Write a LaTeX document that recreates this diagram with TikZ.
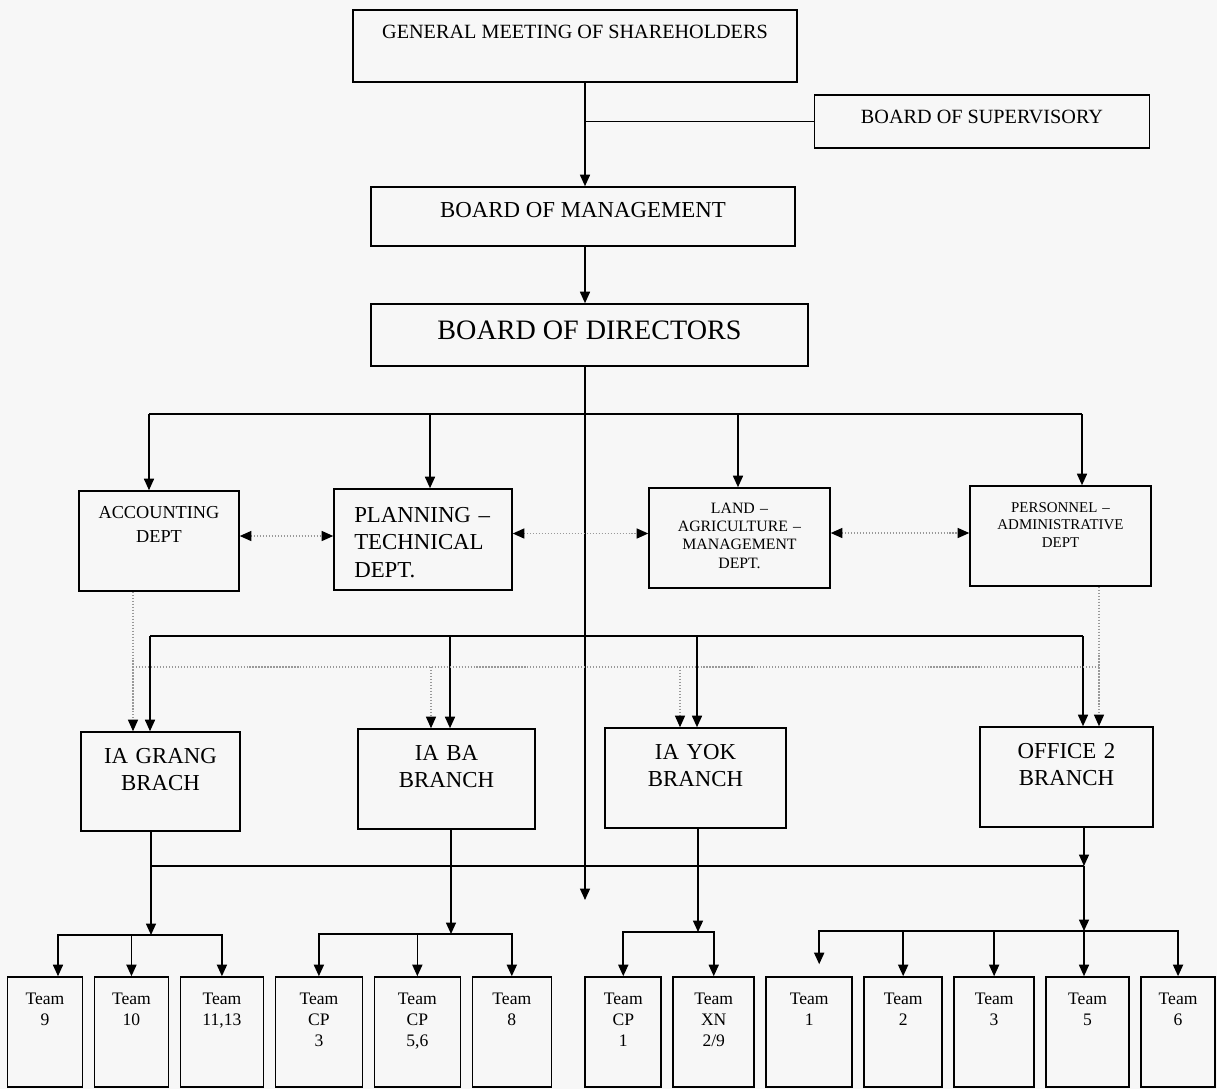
\documentclass[tikz,border=0pt]{standalone}
\usepackage{fontspec}
\setmainfont{Liberation Serif}
\usetikzlibrary{arrows.meta,positioning}

\begin{document}
\begin{tikzpicture}[
      x=0.02cm, y=-0.02cm,
      node distance=0.208cm,
      line width=0.9pt,
      every node/.style={font=\fontsize{10}{12.2}\selectfont},
      block/.style={rectangle, draw, text centered},
      dept/.style={block, minimum height=2cm, text width=3.2cm, text height=0pt},
      branch/.style={block, minimum height=2cm, text width=2.8cm, text height=0pt, text depth=0.74cm, font=\fontsize{13}{15.4}\selectfont},
      team/.style={block, minimum height=2.2cm, text width=1.2cm, text height=0pt, text depth=1.12cm},
      line/.style={draw, -{Triangle[length=2.3mm, width=2mm]}},
      link/.style={draw},
      dotlink/.style={draw=black!40, densely dotted, line width=0.7pt},
      dotline/.style={dotlink, -{Triangle[length=2.3mm, width=2mm, color=black]}},
      dotboth/.style={dotlink, {Triangle[length=2.3mm, width=2mm, color=black]}-{Triangle[length=2.3mm, width=2mm, color=black]}}
    ]
    \useasboundingbox (0,0) rectangle (1217,1089);
    \fill [black!3] (0,0) rectangle (1217,1089);
    % Boards
    \node [block, minimum width=8.88cm, minimum height=1.44cm, text height=0pt, text depth=0.29cm, font=\fontsize{11.5}{14}\selectfont] (gms) at (575,46) {GENERAL MEETING OF SHAREHOLDERS};
    \node [block, minimum width=6.7cm, minimum height=1.06cm, text height=0.07cm, text depth=0pt, font=\fontsize{11.5}{14}\selectfont] (sup) at (982,121.5) {BOARD OF SUPERVISORY};
    \node [block, minimum width=8.48cm, minimum height=1.18cm, text height=0.04cm, text depth=0pt, font=\fontsize{13}{15}\selectfont] (bom) at (583,216.5) {BOARD OF MANAGEMENT};
    \node [block, minimum width=8.74cm, minimum height=1.24cm, text height=0.17cm, text depth=0pt, font=\fontsize{16}{19}\selectfont] (bod) at (589.5,335) {BOARD OF DIRECTORS};
    % Departments
    \node [dept, minimum width=3.2cm, text width=2.8cm, text depth=0.92cm, font=\fontsize{10.4}{14.2}\selectfont] (acc) at (159,541) {ACCOUNTING\\DEPT};
    \node [dept, minimum width=3.56cm, minimum height=2.02cm, text width=2.75cm, align=left, text depth=0.68cm, font=\fontsize{13}{15.6}\selectfont] (plan) at (423,539.5) {PLANNING –\\TECHNICAL\\DEPT.};
    \node [dept, minimum width=3.62cm, text depth=0.99cm, font=\fontsize{9}{10.4}\selectfont] (land) at (739.5,538) {LAND –\\AGRICULTURE –\\MANAGEMENT\\DEPT.};
    \node [dept, minimum width=3.62cm, text depth=0.96cm, font=\fontsize{8.5}{10.2}\selectfont] (pers) at (1060.5,536) {PERSONNEL –\\ADMINISTRATIVE\\DEPT};
    % Branches
    \node [branch, minimum width=3.18cm, minimum height=1.98cm] (grang) at (160.5,781.5) {IA GRANG\\BRACH};
    \node [branch, minimum width=3.54cm] (ba) at (446.5,779) {IA BA\\BRANCH};
    \node [branch, minimum width=3.62cm] (yok) at (695.5,778) {IA YOK\\BRANCH};
    \node [branch, minimum width=3.46cm] (off) at (1066.5,777) {OFFICE 2\\BRANCH};
    % Teams
    \node [team, minimum width=1.5cm] (t9) at (45,1032) {Team\\9};
    \node [team, minimum width=1.48cm, right=of t9] (t10) {Team\\10};
    \node [team, minimum width=1.66cm, right=of t10] (t11) {Team\\11,13};
    \node [team, minimum width=1.74cm, right=of t11] (tcp3) {Team\\CP\\3};
    \node [team, minimum width=1.72cm, right=of tcp3] (tcp56) {Team\\CP\\5,6};
    \node [team, minimum width=1.58cm, right=of tcp56] (t8) {Team\\8};
    \node [team, minimum width=1.52cm, right=0.648cm of t8] (tcp1) {Team\\CP\\1};
    \node [team, minimum width=1.62cm, right=of tcp1] (txn) {Team\\XN\\2/9};
    \node [team, minimum width=1.72cm, right=of txn] (t1) {Team\\1};
    \node [team, minimum width=1.56cm, right=of t1] (t2) {Team\\2};
    \node [team, minimum width=1.6cm, right=of t2] (t3) {Team\\3};
    \node [team, minimum width=1.66cm, right=of t3] (t5) {Team\\5};
    \node [team, minimum width=1.48cm, right=of t5] (t6) {Team\\6};
    % Bus points
    \coordinate (spine) at (585,0);
    \coordinate (spineend) at (585,900);
    \coordinate (da) at (149,414);
    \coordinate (db) at (430,414);
    \coordinate (dc) at (738,414);
    \coordinate (dd) at (1082,414);
    \coordinate (fa) at (150,636);
    \coordinate (fb) at (450,636);
    \coordinate (fc) at (697,636);
    \coordinate (fd) at (1083,636);
    \coordinate (ea) at (133,667);
    \coordinate (eb) at (431,667);
    \coordinate (ec) at (680,667);
    \coordinate (ed) at (1099,667);
    \coordinate (ga) at (151,866);
    \coordinate (gd) at (1084,866);
    \coordinate (ta) at (151,935);
    \coordinate (tb) at (451,934);
    \coordinate (tc) at (698,932);
    \coordinate (td) at (1084,931);
    % Lines
    \path [line] (gms.south -| spine) -- (bom.north -| spine);
    \path [link] (sup.west -| spine) -- (sup.west);
    \path [line] (bom.south -| spine) -- (bod.north -| spine);
    \path [line] (bod.south -| spine) -- (spineend);
    \path [link] (da) -- (dd);
    \path [line] (da) -- (da |- acc.north);
    \path [line] (db) -- (db |- plan.north);
    \path [line] (dc) -- (dc |- land.north);
    \path [line] (dd) -- (dd |- pers.north);
    \path [dotboth] ([yshift=0.1cm]acc.east) -- ([yshift=0.1cm]acc.east -| plan.west);
    \path [dotboth] ([yshift=0.12cm]plan.east) -- ([yshift=0.12cm]plan.east -| land.west);
    \path [dotboth] ([yshift=0.1cm]land.east) -- ([yshift=0.1cm]land.east -| pers.west);
    \path [link] (fa) -- (fd);
    \path [line] (fa) -- (fa |- grang.north);
    \path [line] (fb) -- (fb |- ba.north);
    \path [line] (fc) -- (fc |- yok.north);
    \path [line] (fd) -- (fd |- off.north);
    \path [dotlink] (ea) -- (ed);
    \path [dotline] (ea |- acc.south) -- (ea |- grang.north);
    \path [dotline] (eb) -- (eb |- ba.north);
    \path [dotline] (ec) -- (ec |- yok.north);
    \path [dotline] (ed |- pers.south) -- (ed |- off.north);
    \path [link] (ga) -- (gd);
    \path [line] (grang.south -| ta) -- (ta);
    \path [line] (ba.south -| tb) -- (tb);
    \path [line] (yok.south -| tc) -- (tc);
    \path [line] (off.south -| gd) -- (gd);
    \path [line] (gd) -- (td);
    \path [line] (ta) -| ([xshift=0.26cm]t9.north);
    \path [line] (ta) -| (t10);
    \path [line] (ta) -| (t11);
    \path [line] (tb) -| (tcp3);
    \path [line] (tb) -| (tcp56);
    \path [line] (tb) -| (t8);
    \path [line] (tc) -| (tcp1);
    \path [line] (tc) -| (txn);
    \path [line, shorten >=0.24cm] (td) -| ([xshift=0.2cm]t1.north);
    \path [line] (td) -| (t2);
    \path [line] (td) -| (t3);
    \path [line] (td) -- (td |- t5.north);
    \path [line] (td) -| (t6);
  \end{tikzpicture}
\end{document}
